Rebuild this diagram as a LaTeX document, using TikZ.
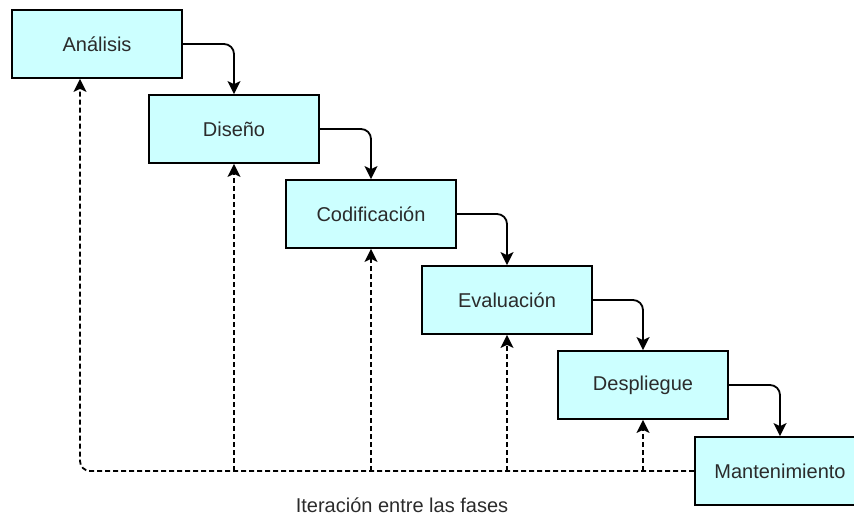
\documentclass[tikz,border=0pt]{standalone}
\usepackage{fontspec}
\setmainfont{Liberation Sans}
\usetikzlibrary{arrows.meta}
\definecolor{phasefill}{HTML}{CCFFFF}
\definecolor{textgray}{HTML}{2B2B2B}
\begin{document}
\begin{tikzpicture}[x=1pt,y=-1pt,
  phase/.style={draw=black, line width=1.8pt, fill=phasefill,
    minimum width=170pt, minimum height=68pt, inner sep=0pt,
    font=\fontsize{20}{23}\selectfont, text=textgray},
  flow/.style={-{Stealth[length=13pt,width=13pt,inset=3pt]},
    line width=1.8pt, rounded corners=10pt},
  back/.style={flow, dash pattern=on 5pt off 3pt},
  caption/.style={font=\fontsize{20}{23}\selectfont, text=textgray}]
\useasboundingbox (0,0) rectangle (854,516);

% waterfall phases
\node[phase] (a1) at (97,44)  {Análisis};
\node[phase] (a2) at (234,129) {Diseño};
\node[phase] (a3) at (371,214) {Codificación};
\node[phase] (a4) at (507,300) {Evaluación};
\node[phase] (a5) at (643,385) {Despliegue};
\node[phase] (a6) at (780,471) {Mantenimiento};

% forward flow
\draw[flow] (a1.east) -| (a2.north);
\draw[flow] (a2.east) -| (a3.north);
\draw[flow] (a3.east) -| (a4.north);
\draw[flow] (a4.east) -| (a5.north);
\draw[flow] (a5.east) -| (a6.north);

% feedback loop back to earlier phases
\draw[back] (a6.west) -| ([xshift=-17pt]a1.south);
\draw[back] (a2.south |- a6.west) -- (a2.south);
\draw[back] (a3.south |- a6.west) -- (a3.south);
\draw[back] (a4.south |- a6.west) -- (a4.south);
\draw[back] (a5.south |- a6.west) -- (a5.south);

\node[caption] (lbl) at (402,505) {Iteración entre las fases};
\end{tikzpicture}
\end{document}
